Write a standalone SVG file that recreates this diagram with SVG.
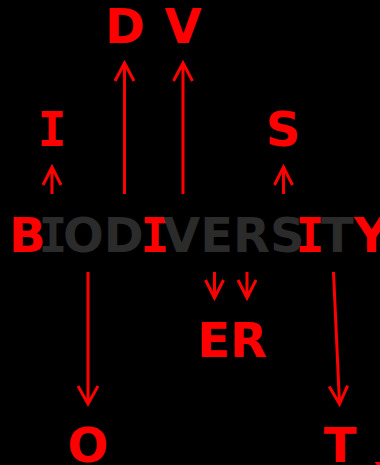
<svg xmlns="http://www.w3.org/2000/svg" width="380" height="465" viewBox="0 0 380 465">
<style>
text{font-family:"DejaVu Sans",sans-serif;font-weight:bold;font-size:48px}
.i{font-family:"DejaVu Sans Mono",monospace;text-anchor:middle}
.r{fill:#ff0000}
.g{fill:#2b2b2b}
.c{text-anchor:middle}
.a{stroke:#ff0000;stroke-width:3;fill:none}
</style>
<rect width="380" height="465" fill="#000"/>
<g id="word">
<text class="r" x="9" y="252">B</text>
<text class="g i" x="53" y="252">I</text>
<text class="g" x="63" y="252">OD</text>
<text class="r i" x="155" y="252">I</text>
<text class="g" x="163" y="252">VERS</text>
<text class="r i" x="310" y="252">I</text>
<text class="g" x="321" y="252">T</text>
<text class="r" x="354" y="252">Y</text>
</g>
<g id="nD"><text class="r c" x="125" y="43">D</text></g>
<g id="nV"><text class="r c" x="183" y="43">V</text></g>
<g id="nI"><text class="r i" x="52" y="146">I</text></g>
<g id="nS"><text class="r c" x="283" y="146">S</text></g>
<g id="nER"><text class="r c" x="232" y="357">ER</text></g>
<g id="nO"><text class="r c" x="88" y="462">O</text></g>
<g id="nT"><text class="r c" x="340" y="462">T</text></g>
<g id="nY"><text class="r" x="375" y="497">Y</text></g>
<g id="connectors" class="a">
<path d="M52 194V167M43 185L52 167L61 185"/>
<path d="M124.5 194V63M115 81L124.5 63L134 81"/>
<path d="M183 194V63M173.5 81L183 63L192.5 81"/>
<path d="M283.5 194V167M274.5 185L283.5 167L292.5 185"/>
<path d="M214.5 272V298M205.5 280L214.5 298L223.5 280"/>
<path d="M247 272V298M238 280L247 298L256 280"/>
<path d="M88 272V404M78 386L88 404L98 386"/>
<path d="M333.5 272L339.5 404M329.2 386.5L339.5 404L347.6 385.6"/>
</g>
</svg>
